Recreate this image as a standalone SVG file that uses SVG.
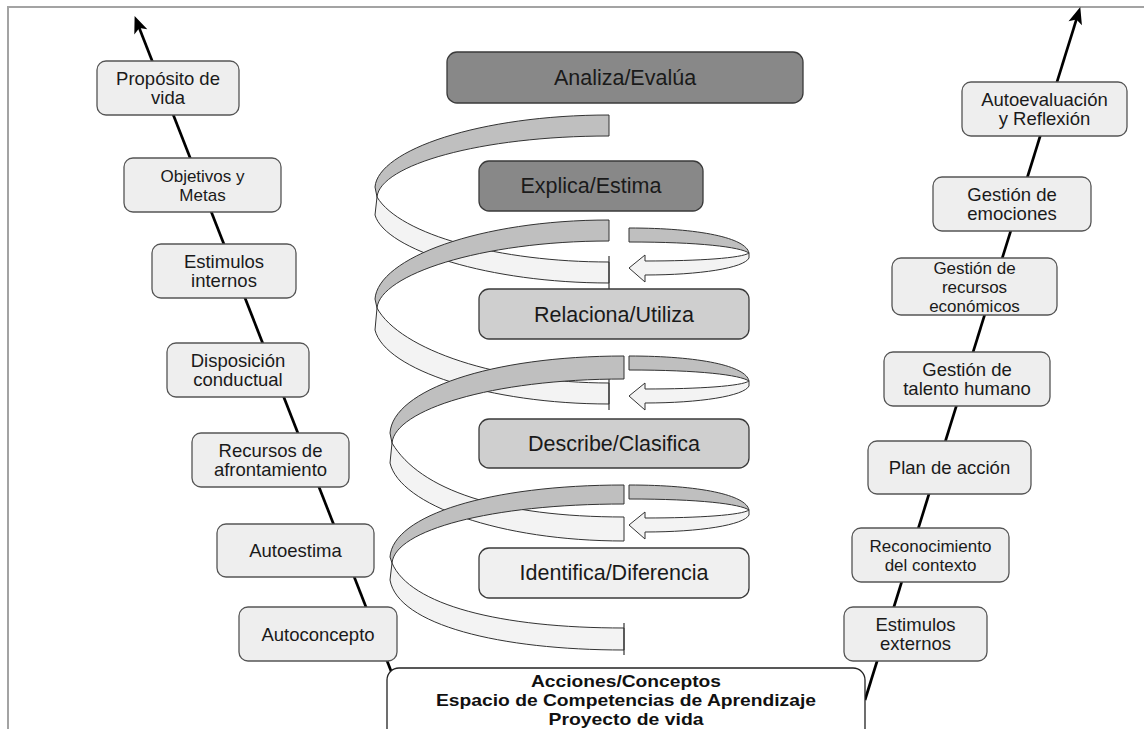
<svg xmlns="http://www.w3.org/2000/svg" width="1144" height="729" viewBox="0 0 1144 729">
  <style>
    .frame { fill: none; stroke: #a3a3a3; stroke-width: 2; }
    .axis { stroke: #000; stroke-width: 2.7; fill: none; }
    .node rect { fill: #eeeeee; stroke: #555; stroke-width: 1.3; }
    .lbl { font-family: "Liberation Sans", Arial, sans-serif; font-size: 18.5px; fill: #1a1a1a; text-anchor: middle; }
    .sm { font-size: 17px; }
    .stage rect { stroke: #3a3a3a; stroke-width: 1.3; }
    .stage text { font-family: "Liberation Sans", Arial, sans-serif; font-size: 21.5px; fill: #1a1a1a; text-anchor: middle; }
    .s-dark rect { fill: #888888; }
    .s-mid rect { fill: #cfcfcf; }
    .s-light rect { fill: #f0f0f0; }
    .rib-d { fill: #bfbfbf; stroke: #333; stroke-width: 1; }
    .rib-l { fill: #f3f3f3; stroke: #333; stroke-width: 1; }
    .tick { stroke: #333; stroke-width: 1.2; fill: none; }
    .base rect { fill: #ffffff; stroke: #222; stroke-width: 1.3; }
    .base text { font-family: "Liberation Sans", Arial, sans-serif; font-size: 17px; font-weight: bold; fill: #111; text-anchor: middle; }
  </style>
  <defs>
    <marker id="head" markerUnits="userSpaceOnUse" markerWidth="24" markerHeight="24" viewBox="-12 -12 24 24" refX="0" refY="0" orient="auto">
      <path d="M9,0 L-8,-7 L-4,0 L-8,7 Z" fill="#000"/>
    </marker>
  </defs>

  <!-- page frame -->
  <rect class="frame" x="8" y="7" width="1200" height="800"/>

  <!-- the two rising axes -->
  <g id="connectors">
    <line class="axis" x1="393" y1="676" x2="137.9" y2="24.4" marker-end="url(#head)"/>
    <line class="axis" x1="865" y1="700" x2="1077.6" y2="15.6" marker-end="url(#head)"/>
  </g>

  <!-- spiral ribbon -->
  <g id="spiral">
    <path class="rib-d" d="M609 115 C480 115 378 150 375 187 L377 197 C380 165 480 136 609 136 Z"/>
    <path class="rib-l" d="M377 197 C400 235 500 262 609 262 L609 283 C490 283 385 250 375 215 Z"/>
    <path class="tick" d="M609 256 V290"/>

    <path class="rib-d" d="M609 220 C480 220 378 258 375 299 L377 308 C380 275 480 241 609 241 Z"/>
    <path class="rib-l" d="M377 308 C400 350 500 383 609 383 L609 404 C490 404 385 370 375 330 Z"/>
    <path class="tick" d="M609 378 V410"/>

    <path class="rib-d" d="M624 356 C490 356 393 390 390 433 L392 443 C395 410 490 379 624 379 Z"/>
    <path class="rib-l" d="M392 443 C420 490 500 517 624 517 L624 541 C500 541 400 505 390 463 Z"/>

    <path class="rib-d" d="M624 485 C490 485 393 515 390 557 L392 563 C395 530 490 504 624 504 Z"/>
    <path class="rib-l" d="M392 563 C410 605 500 628 624 628 L624 650 C500 650 398 625 390 580 Z"/>
    <path class="tick" d="M624 623 V655"/>

    <!-- right-hand turns ending in arrowheads -->
    <path class="rib-d" d="M629 228 C700 228 746 238 749 253 C740 247 700 242 629 242 Z"/>
    <path class="rib-l" d="M629 268 L645 255 L645 261 C700 261 742 258 749 253 L749 258 C744 268 700 275 645 275 L645 282 Z"/>

    <path class="rib-d" d="M629 356 C700 356 746 366 749 381 C740 375 700 370 629 370 Z"/>
    <path class="rib-l" d="M629 396 L645 383 L645 389 C700 389 742 386 749 381 L749 386 C744 396 700 403 645 403 L645 410 Z"/>

    <path class="rib-d" d="M629 485 C700 485 746 495 749 510 C740 504 700 499 629 499 Z"/>
    <path class="rib-l" d="M629 525 L645 512 L645 518 C700 518 742 515 749 510 L749 515 C744 525 700 532 645 532 L645 539 Z"/>
  </g>

  <!-- learning stages -->
  <g id="stage-analiza" class="stage s-dark">
    <rect x="447" y="52" width="356" height="51" rx="10"/>
    <text x="625" y="84.5">Analiza/Evalúa</text>
  </g>
  <g id="stage-explica" class="stage s-dark">
    <rect x="479" y="161" width="224" height="50" rx="10"/>
    <text x="591" y="193">Explica/Estima</text>
  </g>
  <g id="stage-relaciona" class="stage s-mid">
    <rect x="479" y="289" width="270" height="50" rx="10"/>
    <text x="614" y="321.5">Relaciona/Utiliza</text>
  </g>
  <g id="stage-describe" class="stage s-mid">
    <rect x="479" y="419" width="270" height="49" rx="10"/>
    <text x="614" y="450.5">Describe/Clasifica</text>
  </g>
  <g id="stage-identifica" class="stage s-light">
    <rect x="479" y="548" width="270" height="50" rx="10"/>
    <text x="614" y="580">Identifica/Diferencia</text>
  </g>

  <!-- personal axis -->
  <g id="n-proposito" class="node">
    <rect x="97" y="61" width="142" height="54" rx="9"/>
    <text class="lbl" x="168" y="85.3">Propósito de</text>
    <text class="lbl" x="168" y="104.3">vida</text>
  </g>
  <g id="n-objetivos" class="node">
    <rect x="124" y="158" width="157" height="54" rx="9"/>
    <text class="lbl sm" x="202.5" y="182">Objetivos y</text>
    <text class="lbl sm" x="202.5" y="201">Metas</text>
  </g>
  <g id="n-est-internos" class="node">
    <rect x="152" y="244" width="144" height="54" rx="9"/>
    <text class="lbl" x="224" y="268.3">Estimulos</text>
    <text class="lbl" x="224" y="287.3">internos</text>
  </g>
  <g id="n-disposicion" class="node">
    <rect x="167" y="343" width="142" height="54" rx="9"/>
    <text class="lbl" x="238" y="367.3">Disposición</text>
    <text class="lbl" x="238" y="386.3">conductual</text>
  </g>
  <g id="n-recursos" class="node">
    <rect x="192" y="433" width="157" height="54" rx="9"/>
    <text class="lbl" x="270.5" y="457.3">Recursos de</text>
    <text class="lbl" x="270.5" y="476.3">afrontamiento</text>
  </g>
  <g id="n-autoestima" class="node">
    <rect x="217" y="524" width="157" height="53" rx="9"/>
    <text class="lbl" x="295.5" y="557">Autoestima</text>
  </g>
  <g id="n-autoconcepto" class="node">
    <rect x="239" y="607" width="158" height="54" rx="9"/>
    <text class="lbl" x="318" y="640.6">Autoconcepto</text>
  </g>

  <!-- management axis -->
  <g id="n-autoevaluacion" class="node">
    <rect x="962" y="82" width="165" height="54" rx="9"/>
    <text class="lbl" x="1044.5" y="106.3">Autoevaluación</text>
    <text class="lbl" x="1044.5" y="125.3">y Reflexión</text>
  </g>
  <g id="n-emociones" class="node">
    <rect x="933" y="177" width="158" height="54" rx="9"/>
    <text class="lbl" x="1012" y="201.3">Gestión de</text>
    <text class="lbl" x="1012" y="220.3">emociones</text>
  </g>
  <g id="n-economicos" class="node">
    <rect x="892" y="258" width="165" height="57" rx="9"/>
    <text class="lbl sm" x="974.5" y="273.6">Gestión de</text>
    <text class="lbl sm" x="974.5" y="292.6">recursos</text>
    <text class="lbl sm" x="974.5" y="311.6">económicos</text>
  </g>
  <g id="n-talento" class="node">
    <rect x="884" y="352" width="166" height="54" rx="9"/>
    <text class="lbl" x="967" y="376.3">Gestión de</text>
    <text class="lbl" x="967" y="395.3">talento humano</text>
  </g>
  <g id="n-plan" class="node">
    <rect x="868" y="441" width="163" height="53" rx="9"/>
    <text class="lbl" x="949.5" y="474">Plan de acción</text>
  </g>
  <g id="n-contexto" class="node">
    <rect x="852" y="528" width="157" height="54" rx="9"/>
    <text class="lbl sm" x="930.5" y="552.3">Reconocimiento</text>
    <text class="lbl sm" x="930.5" y="571.3">del contexto</text>
  </g>
  <g id="n-est-externos" class="node">
    <rect x="844" y="607" width="143" height="54" rx="9"/>
    <text class="lbl" x="915.5" y="631.3">Estimulos</text>
    <text class="lbl" x="915.5" y="650.3">externos</text>
  </g>

  <!-- base -->
  <g id="n-base" class="base">
    <rect x="387" y="668" width="478" height="90" rx="12"/>
    <text x="626" y="687" textLength="190" lengthAdjust="spacingAndGlyphs">Acciones/Conceptos</text>
    <text x="626" y="706" textLength="380" lengthAdjust="spacingAndGlyphs">Espacio de Competencias de Aprendizaje</text>
    <text x="626" y="725" textLength="155" lengthAdjust="spacingAndGlyphs">Proyecto de vida</text>
  </g>
</svg>
